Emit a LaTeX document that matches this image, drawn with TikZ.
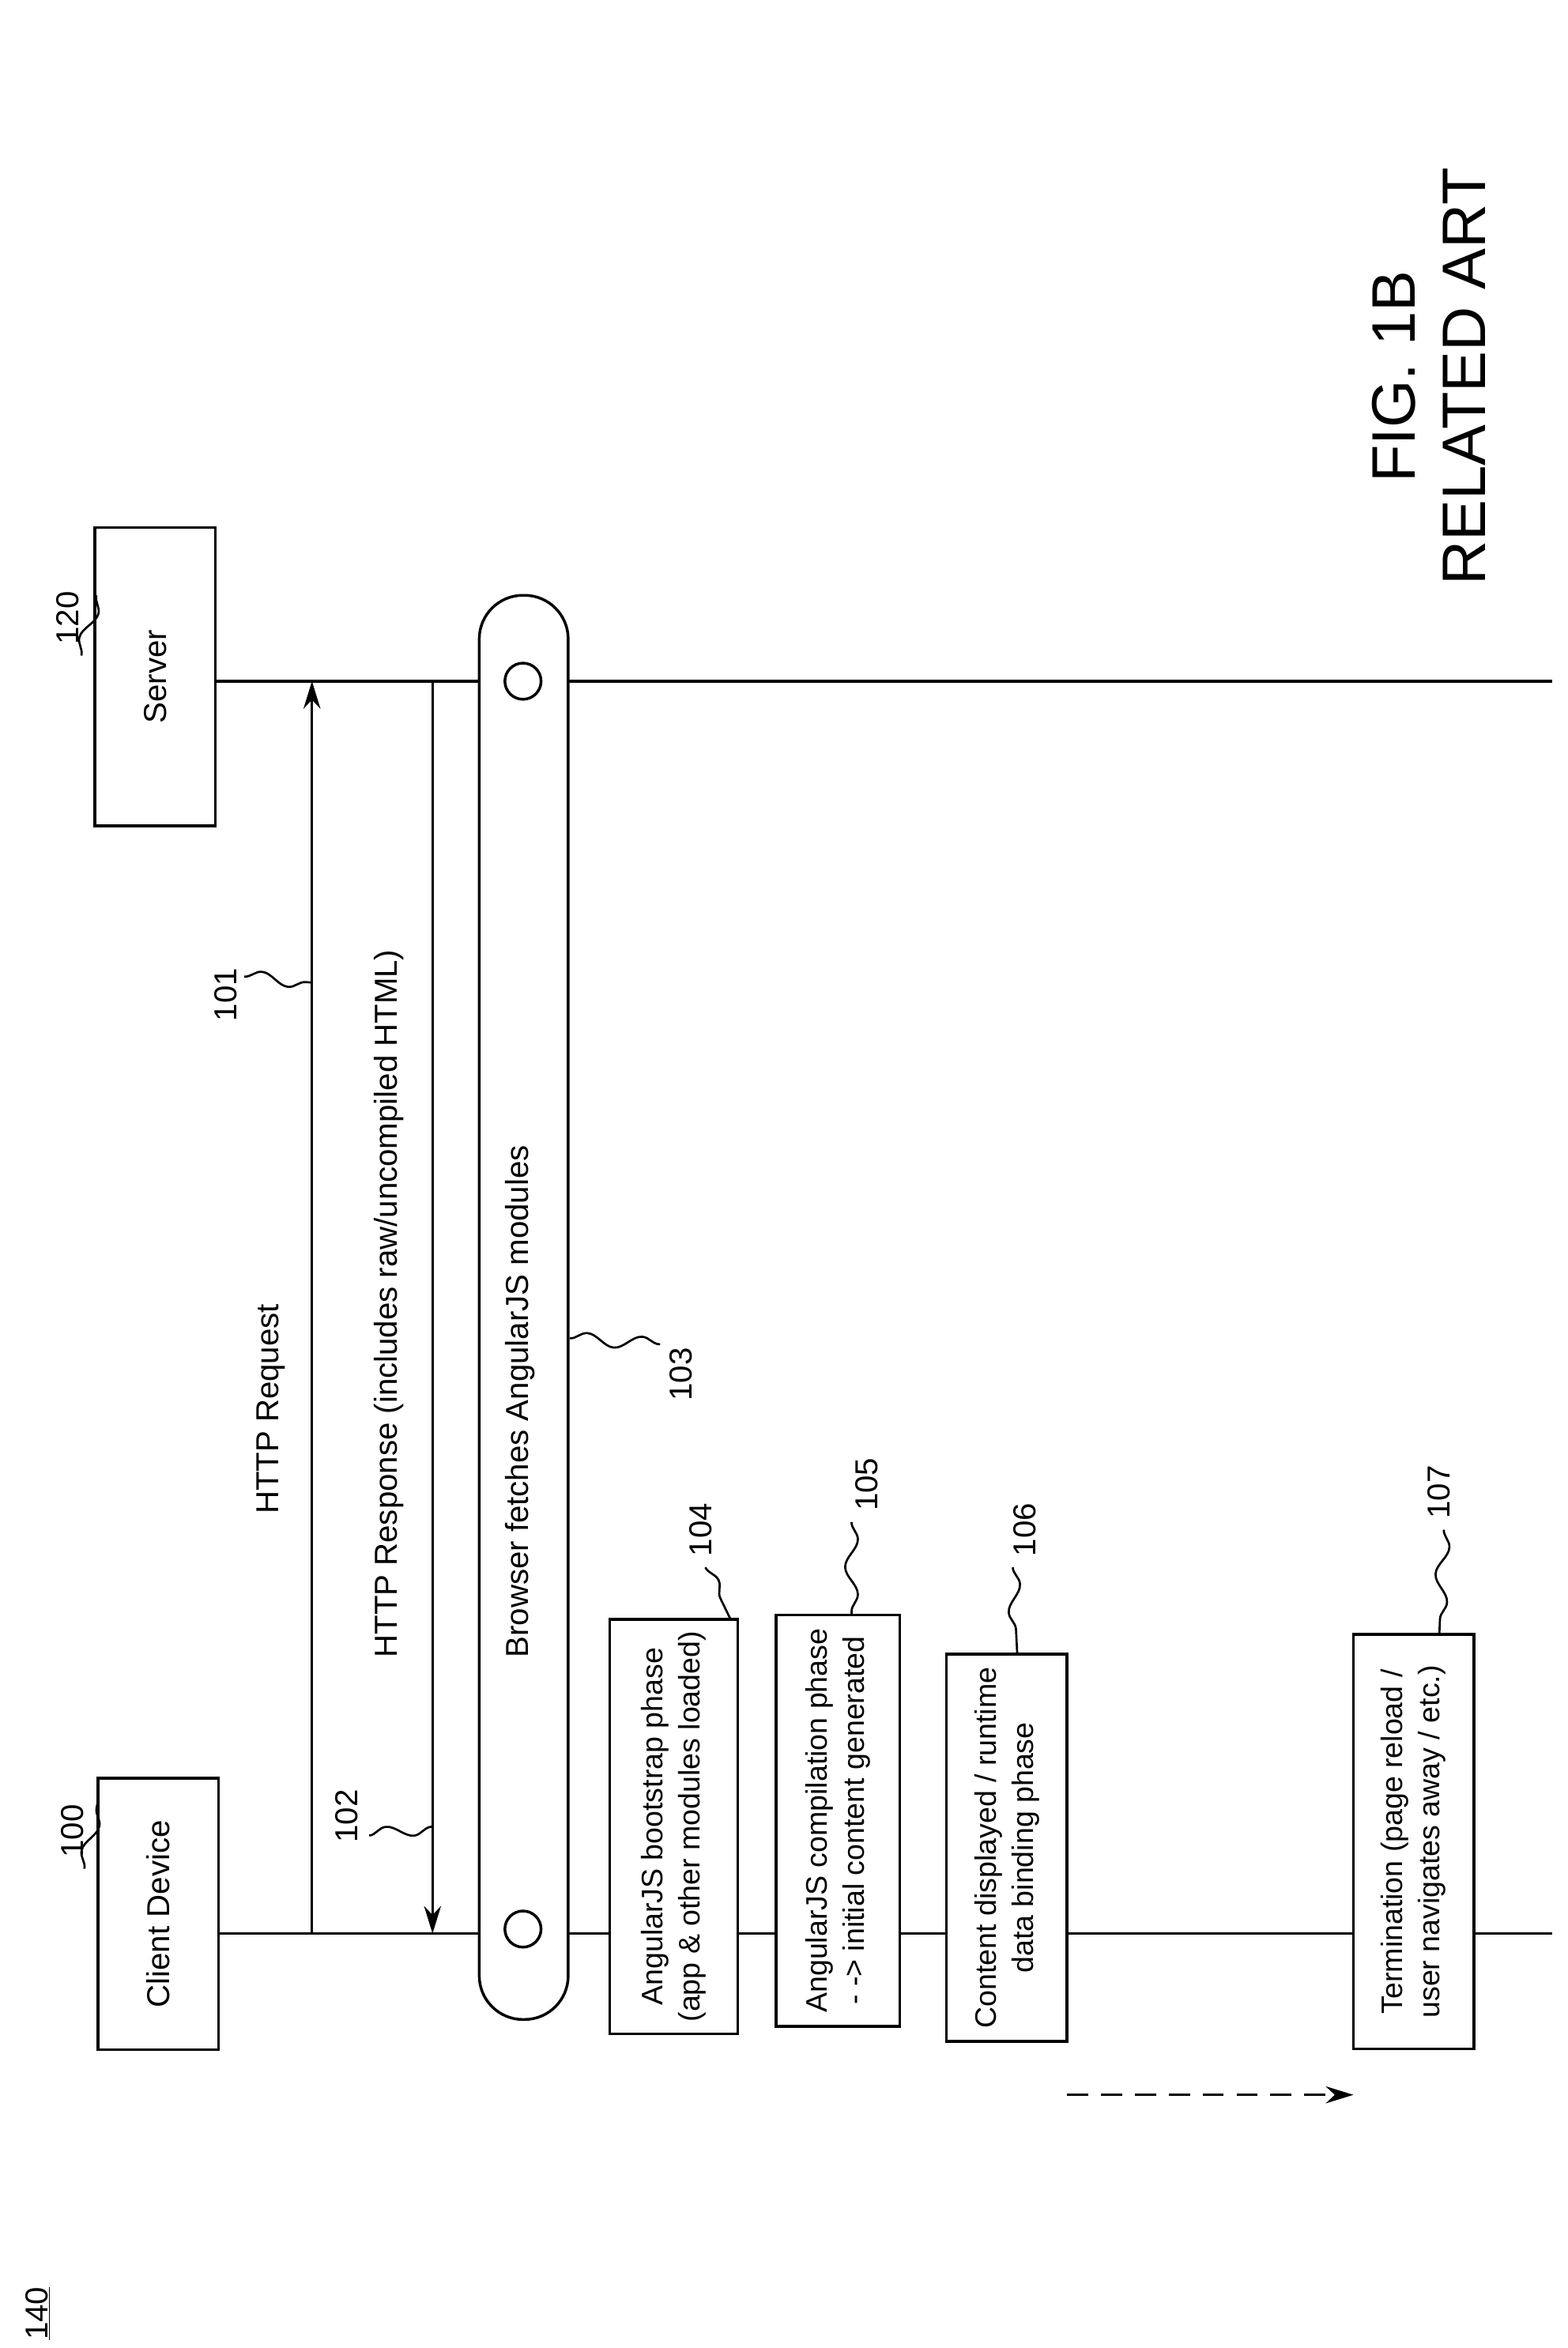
\documentclass[tikz,border=0pt]{standalone}
\usepackage{fontspec}
\setmainfont{Liberation Sans}
\usetikzlibrary{arrows.meta,decorations.pathmorphing}
\tikzset{
  lbl/.style={rotate=90,font=\fontsize{30}{37}\selectfont,align=center},
  phase/.style={draw,fill=white,line width=2.6pt,rotate=90,font=\fontsize{28}{35}\selectfont,align=center,inner sep=0pt},
  sq/.style={line width=2pt,decorate,decoration={snake,amplitude=6pt,segment length=52pt}},
  life/.style={line width=2.4pt},
  msg/.style={line width=2.4pt,-{Stealth[length=26pt,width=16pt]}}
}
\begin{document}
\begin{tikzpicture}[x=0.05cm,y=-0.05cm]
\useasboundingbox (0,0) rectangle (1040,1558);
% lifelines
\coordinate (c0) at (145,1283); \coordinate (cend) at (1030,1283);
\coordinate (s0) at (143,452); \coordinate (send) at (1030,452);
\draw[life] (c0) -- (cend);
\draw[life] (s0) -- (send);
% actors
\node[phase,font=\fontsize{30}{37}\selectfont,minimum width=9cm,minimum height=4cm] (client) at (105,1270) {Client Device};
\node[phase,font=\fontsize{30}{37}\selectfont,minimum width=9.9cm,minimum height=4cm] (server) at (103,449) {Server};
\node[lbl] (n100) at (48,1215) {100};
\node[lbl] (n120) at (45,410) {120};
\draw[sq] (56,1240) -- (65,1195);
\draw[sq] (54,435) -- (64,395);
% messages
\coordinate (req0) at (207,1283); \coordinate (req1) at (207,452);
\draw[msg] (req0) -- (req1);
\node[lbl] (lreq) at (180,935) {HTTP Request};
\node[lbl] (n101) at (150,660) {101};
\draw[sq] (162,648) -- (207,652);
\coordinate (res0) at (287,452); \coordinate (res1) at (287,1283);
\draw[msg] (res0) -- (res1);
\node[lbl] (lres) at (258,865) {HTTP Response (includes raw/uncompiled HTML)};
\node[lbl] (n102) at (230,1205) {102};
\draw[sq] (245,1218) -- (287,1212);
% fetch bar
\draw[line width=2.6pt,rounded corners=1.45cm,fill=white] (318,395) rectangle (377,1340);
\draw[line width=2.6pt,fill=white] (347,452) circle (12);
\draw[line width=2.6pt,fill=white] (347,1280) circle (12);
\node[lbl] (lfetch) at (345,930) {Browser fetches AngularJS modules};
\node[lbl] (n103) at (452,912) {103};
\draw[sq] (378,888) -- (438,892);
% phases
\node[phase,minimum width=13.75cm,minimum height=4.25cm] (boot) at (447,1212) {AngularJS bootstrap phase\\(app \& other modules loaded)};
\node[phase,minimum width=13.65cm,minimum height=4.1cm] (comp) at (556,1208) {AngularJS compilation phase\\- -> initial content generated};
\node[phase,minimum width=12.85cm,minimum height=4cm] (disp) at (668,1226) {Content displayed / runtime\\data binding phase};
\node[phase,minimum width=13.75cm,minimum height=4cm] (term) at (938,1222) {Termination (page reload /\\user navigates away / etc.)};
\node[lbl] (n104) at (465,1015) {104};
\node[lbl] (n105) at (575,985) {105};
\node[lbl] (n106) at (680,1015) {106};
\node[lbl] (n107) at (955,990) {107};
\draw[sq] (468,1040) -- (485,1075);
\draw[sq] (565,1010) -- (565,1072);
\draw[sq] (672,1040) -- (675,1098);
\draw[sq] (958,1015) -- (955,1085);
\coordinate (d0) at (708,1390); \coordinate (d1) at (898,1390);
\draw[msg,dashed,dash pattern=on 20pt off 12pt] (d0) -- (d1);
% caption
\node[rotate=90,font=\fontsize{58}{66}\selectfont,align=center] (fig) at (948,250) {FIG. 1B\\RELATED ART};
\node[lbl] (n140) at (25,1535) {\underline{140}};
\end{tikzpicture}
\end{document}
